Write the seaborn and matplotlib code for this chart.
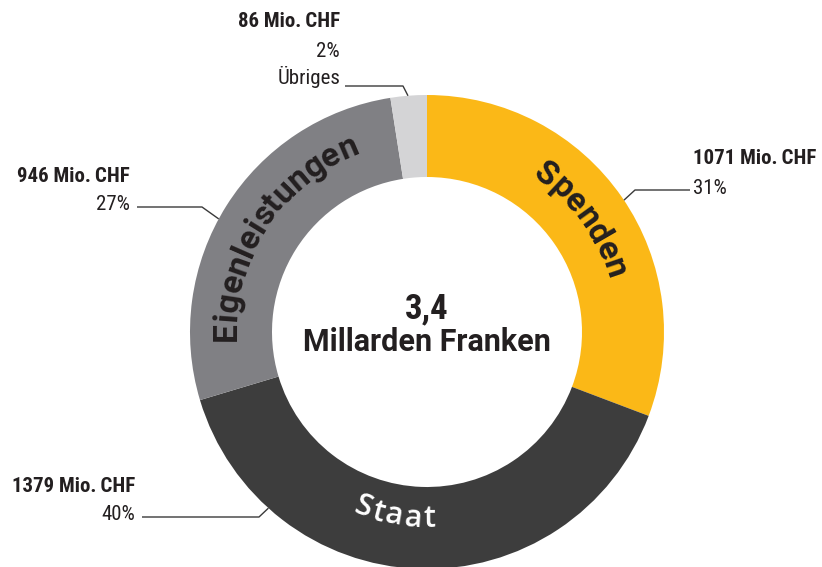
import numpy as np
import matplotlib
matplotlib.use("Agg")
import matplotlib.pyplot as plt
from matplotlib.font_manager import FontProperties
from matplotlib.textpath import TextToPath
import seaborn as sns

# Funding sources (Mio. CHF) and their shares
categories = ["Spenden", "Staat", "Eigenleistungen", "Übriges"]
amounts_mio = [1071, 1379, 946, 86]
shares_pct = [31, 40, 27, 2]
total_lines = ["3,4", "Millarden Franken"]
unit = "Mio.\u2009CHF"

palette = ["#fbb817", "#3d3d3d", "#808084", "#d4d4d6"]
ink = "#231f20"

sns.set_theme(style="white")
NARROW = ["Liberation Sans Narrow", "Roboto Condensed", "DejaVu Sans"]
WIDE = ["Roboto", "DejaVu Sans"]
plt.rcParams["font.family"] = NARROW

W, H = 822, 567
fig = plt.figure(figsize=(W / 100, H / 100), dpi=100)
ax = fig.add_axes([0, 0, 1, 1])

CX, CY = 427, H - 332
R_OUT, RING = 237, 82

ax.pie(amounts_mio, colors=palette, startangle=90, counterclock=False,
       radius=R_OUT, center=(CX, CY),
       wedgeprops=dict(width=RING, linewidth=0))
ax.set_xlim(0, W)
ax.set_ylim(0, H)
ax.set_aspect("equal")
ax.axis("off")

_t2p = TextToPath()


def glyph_width(ch, prop):
    w, _, _ = _t2p.get_text_width_height_descent(ch, prop, ismath=False)
    return w * 100 / 72


def arc_text(s, mid_deg, r_base, prop, color, outward=True, tracking=0.0):
    """Set a word letter by letter along a circle around the ring centre."""
    widths = [glyph_width(c, prop) for c in s]
    total = sum(widths) + tracking * (len(s) - 1)
    pos = 0.0
    for c, w in zip(s, widths):
        off = pos + w / 2 - total / 2
        d = np.degrees(off / r_base)
        theta = mid_deg - d if outward else mid_deg + d
        rot = theta - 90 if outward else theta + 90
        x = CX + r_base * np.cos(np.radians(theta))
        y = CY + r_base * np.sin(np.radians(theta))
        ax.text(x, y, c, fontproperties=prop, color=color, rotation=rot,
                rotation_mode="anchor", ha="center", va="baseline")
        pos += w + tracking


ring_bold = FontProperties(family=WIDE, weight="bold", size=24)
ring_soft = FontProperties(family=["Open Sans", "DejaVu Sans"], weight="semibold", size=22)

# word placement inside the ring: (angle, baseline radius, outward?, font, colour, tracking)
ring_words = {
    "Spenden": (36, 188, True, ring_bold, ink, 0.0),
    "Staat": (-100, 195, False, ring_soft, "white", 2.0),
    "Eigenleistungen": (146.5, 191, True, ring_bold, ink, 0.0),
}
for name in categories:
    if name in ring_words:
        ang, rb, outw, fp, col, tr = ring_words[name]
        arc_text(name, ang, rb, fp, col, outward=outw, tracking=tr)

# leader lines: anchor angle on the rim, elbow (px), end x (px), text side
leaders = {
    "Spenden": (33.8, (635, 190), 690, "left"),
    "Staat": (228.0, (259, 517), 142, "right"),
    "Eigenleistungen": (151.5, (202, 207), 137, "right"),
    "Übriges": (94.6, (403, 86), 345, "right"),
}
line_col = "#3a3a3a"
lab_size = 15
for name, amt, pct in zip(categories, amounts_mio, shares_pct):
    ang, (ex, ey), end_x, side = leaders[name]
    ax0 = CX + R_OUT * np.cos(np.radians(ang))
    ay0 = CY + R_OUT * np.sin(np.radians(ang))
    ax.plot([ax0, ex, end_x], [ay0, H - ey, H - ey], color=line_col, lw=1.0,
            solid_capstyle="butt")
    if side == "left":
        tx = end_x + 3
        ha = "left"
    else:
        tx = end_x - 7
        ha = "right"
    if name == "Übriges":
        ax.text(tx + 2, H - 84, name, ha=ha, va="baseline", fontsize=lab_size,
                color=ink)
        ax.text(tx + 2, H - 57, f"{pct}%", ha=ha, va="baseline",
                fontsize=lab_size, color=ink)
        ax.text(tx + 2, H - 27, f"{amt} {unit}", ha=ha, va="baseline",
                fontsize=lab_size, fontweight="bold", color=ink)
    else:
        ax.text(tx, H - ey + 2, f"{pct}%", ha=ha, va="center",
                fontsize=lab_size, color=ink)
        ax.text(tx, H - ey + 2 + 29, f"{amt} {unit}", ha=ha, va="center",
                fontsize=lab_size, fontweight="bold", color=ink)

# total in the middle
ax.text(CX, H - 318, total_lines[0], ha="center", va="baseline", fontsize=25,
        fontweight="bold", color=ink)
ax.text(CX, H - 351, total_lines[1], ha="center", va="baseline", fontsize=22,
        fontweight="bold", color=ink, family=WIDE)

fig.savefig("out.png", dpi=100, facecolor="white")
